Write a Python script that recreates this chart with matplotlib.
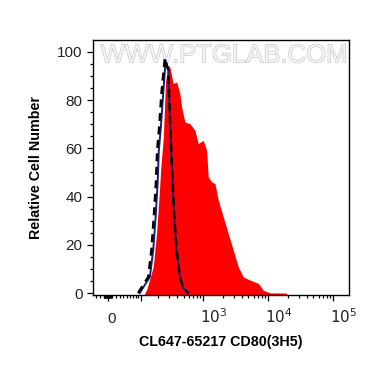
import numpy as np
import matplotlib
matplotlib.use("Agg")
import matplotlib.pyplot as plt
import matplotlib.patheffects as pe
from matplotlib.transforms import ScaledTranslation

plt.rcParams['font.family'] = ['Liberation Sans', 'DejaVu Sans']

# ---- data (fluorescence intensity, relative cell number) ----
red_x = [118, 127, 165, 187, 204, 220, 240, 262, 288, 306, 345, 390, 439, 467, 525,
         628, 750, 844, 1008, 1137, 1204, 1358, 1527, 1717, 2049, 2446, 2921, 3487,
         4162, 5277, 7082, 8453, 10716, 19364]
red_y = [0, 1.2, 10.9, 24.8, 38.5, 52.3, 64, 88, 94.4, 93.7, 86.8, 87.5, 82.6, 77.1, 70.9,
         70.2, 67.5, 62, 63.3, 59.2, 48.1, 46.1, 45.4, 38.5, 31.6, 24.7, 17.8, 10.9,
         6.7, 5.4, 4.0, 1.2, 0.1, 0]

blue_x = [96, 103, 145, 165, 181, 195, 204, 220, 240, 262, 290, 299, 314, 326, 358, 390, 439, 494, 591]
blue_y = [0, 1.2, 6.7, 17.8, 31.6, 45.5, 59.2, 68.8, 82.7, 96.4, 92.3, 79.9, 66.1, 55, 31.6, 17.8, 6.7, 2.1, 0]

dash_x = [89, 96, 136, 154, 169, 183, 192, 207, 225, 255, 290, 299, 314, 326, 358, 390, 439, 494, 591]
dash_y = [0, 1.2, 6.7, 17.8, 31.6, 45.5, 59.2, 68.8, 82.7, 97.3, 92.3, 79.9, 66.1, 55, 31.6, 17.8, 6.7, 2.1, 0]

y_ticks = [0, 20, 40, 60, 80, 100]
x_major = [0, 1e2, 1e3, 1e4, 1e5]
x_labels = ['0', '', r'$10^3$', r'$10^4$', r'$10^5$']
x_label = 'CL647-65217 CD80(3H5)'
y_label = 'Relative Cell Number'
watermark = 'WWW.PTGLAB.COM'

# ---- biexponential-like scale ----
W = 69.0
def fwd(x):
    return np.arcsinh(np.asarray(x, dtype=float) / W) / np.log(10)
def inv(y):
    return W * np.sinh(np.asarray(y, dtype=float) * np.log(10))

fig = plt.figure(figsize=(3.7, 3.67), dpi=100)
ax = fig.add_axes([93/370, 72/367, 256/370, 255/367])
ax.set_xscale('function', functions=(fwd, inv))

ax.fill_between(red_x, red_y, -2, color='#ff0000', lw=0, zorder=2)
ax.plot(blue_x, blue_y, color='#1c1c7a', lw=1.4, zorder=3)
ax.plot(dash_x, dash_y, color='black', lw=1.8, ls=(0, (3.2, 2.2)), zorder=4)

ax.set_xlim(-38, 176000)
ax.set_ylim(-0.8, 104.9)

# ticks
ax.set_yticks(y_ticks)
ax.set_yticks(np.arange(0, 101, 5), minor=True)
ax.set_xticks(x_major)
ax.set_xticklabels(x_labels)
minor = []
for k in [1, 10, 100, 1000, 10000]:
    for m in range(1, 10):
        v = m * k
        if k == 1 or m > 1:
            minor.append(v)
minor += [-v for v in range(1, 10)] + [-10, -20, -30]
ax.set_xticks(sorted(minor), minor=True)

ax.tick_params(axis='both', which='both', direction='out', color='black', width=0.9)
ax.tick_params(axis='y', which='major', length=4.5, pad=3, labelsize=11, labelcolor='#222222')
ax.tick_params(axis='y', which='minor', length=2.5)
ax.tick_params(axis='x', which='major', length=4, pad=16.5, labelsize=11, labelcolor='#222222')
ax.tick_params(axis='x', which='minor', length=2.2)

for lbl in ax.get_xticklabels():
    txt = lbl.get_text()
    lbl.set_verticalalignment('baseline')
    if txt == '0':
        off = ScaledTranslation(4/100, 0, fig.dpi_scale_trans)
        lbl.set_transform(lbl.get_transform() + off)
    else:
        lbl.set_horizontalalignment('left')
        off = ScaledTranslation(-3/100, 0, fig.dpi_scale_trans)
        lbl.set_transform(lbl.get_transform() + off)

for s in ax.spines.values():
    s.set_linewidth(1.0)
    s.set_color('black')

ax.set_xlabel(x_label, fontsize=10.3, fontweight='bold')
ax.set_ylabel(y_label, fontsize=10.3, fontweight='bold')
ax.xaxis.set_label_coords(0.5, -0.155)
ax.yaxis.set_label_coords(-0.197, 0.5)

ax.text(0.995, 0.94, watermark, transform=ax.transAxes, ha='right', va='center',
        fontsize=18.5, color='#f3f3f3', zorder=1.5,
        path_effects=[pe.SimpleLineShadow(offset=(0.8, -0.8), shadow_color='#909090', alpha=0.5),
                      pe.Stroke(linewidth=0.8, foreground='#c4c4c4'), pe.Normal()])

fig.savefig('out.png', dpi=100)
